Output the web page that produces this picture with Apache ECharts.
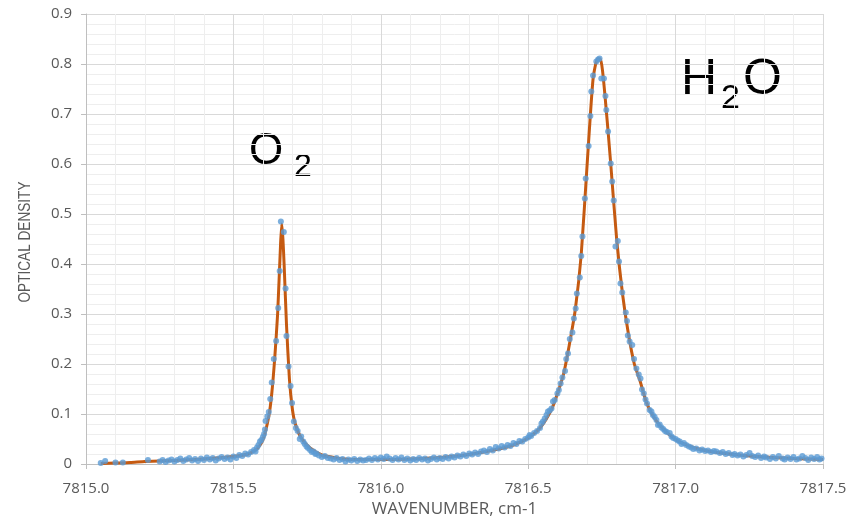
<!DOCTYPE html>
<html>
<head>
<meta charset="utf-8">
<script src="https://cdn.jsdelivr.net/npm/echarts@6/dist/echarts.min.js"></script>
<style>html,body{margin:0;padding:0;background:#fff}#c{width:854px;height:521px}</style>
</head>
<body>
<div id="c"></div>
<script>
// Measured (blue dots)
var measX = [7815.05,7815.065,7815.10,7815.125,7815.21,
7815.25,7815.26,7815.27,7815.28,7815.29,7815.30,7815.31,7815.32,7815.33,7815.34,7815.35,7815.36,7815.37,7815.38,7815.39,7815.40,7815.41,7815.42,7815.43,7815.44,7815.45,7815.46,7815.47,7815.48,7815.49,7815.50,7815.51,7815.52,7815.53,7815.54,7815.55,7815.56,7815.57,7815.575,7815.58,7815.585,7815.59,7815.595,
7815.600,7815.604,7815.607,7815.609,7815.615,7815.620,7815.625,7815.630,7815.637,7815.645,7815.652,7815.657,7815.661,7815.671,7815.677,7815.680,7815.687,7815.694,7815.699,7815.705,7815.712,7815.718,7815.725,7815.730,7815.737,7815.742,7815.748,7815.753,7815.760,7815.766,7815.772,7815.778,7815.782,
7815.79,7815.80,7815.81,7815.82,7815.83,7815.84,7815.85,7815.86,7815.87,7815.88,7815.89,7815.90,7815.91,7815.92,7815.93,7815.94,7815.95,7815.96,7815.97,7815.98,7815.99,7816.00,7816.01,7816.02,7816.03,7816.04,7816.05,7816.06,7816.07,7816.08,7816.09,7816.10,7816.11,7816.12,7816.13,7816.14,7816.15,7816.16,7816.17,7816.18,7816.19,7816.20,7816.21,7816.22,7816.23,7816.24,7816.25,7816.26,7816.27,7816.28,7816.29,7816.30,7816.31,7816.32,7816.33,7816.34,7816.35,7816.36,7816.37,7816.38,7816.39,7816.40,7816.41,7816.42,7816.43,7816.44,7816.45,7816.46,7816.47,7816.48,7816.49,7816.50,7816.505,7816.51,7816.52,7816.53,7816.54,
7816.545,7816.550,7816.556,7816.562,7816.567,7816.573,7816.579,7816.584,7816.590,7816.599,7816.604,7816.610,7816.616,7816.625,7816.629,7816.635,7816.641,7816.650,7816.655,7816.661,7816.665,7816.675,7816.680,7816.684,7816.692,7816.695,7816.705,7816.711,7816.714,7816.720,7816.731,7816.737,7816.742,7816.748,7816.757,7816.762,7816.765,7816.771,7816.780,7816.785,7816.790,7816.796,7816.804,7816.808,7816.813,7816.819,7816.831,7816.835,7816.838,7816.844,7816.853,7816.859,7816.867,7816.875,7816.881,7816.886,7816.892,7816.898,7816.903,7816.912,7816.918,7816.923,7816.929,7816.935,7816.940,7816.946,7816.952,7816.958,7816.964,7816.970,7816.980,7816.986,7816.992,
7817.000,7817.007,7817.014,7817.020,7817.028,7817.036,7817.045,7817.053,7817.06,7817.07,7817.081,7817.09,7817.10,7817.11,7817.12,7817.13,7817.138,7817.15,7817.16,7817.17,7817.18,7817.193,7817.20,7817.21,7817.22,7817.23,7817.24,7817.251,7817.26,7817.27,7817.28,7817.29,7817.30,7817.307,7817.32,7817.33,7817.34,7817.35,7817.363,7817.37,7817.38,7817.39,7817.40,7817.41,7817.42,7817.43,7817.44,7817.45,7817.46,7817.47,7817.48,7817.488,7817.495];
var measY = [0.002,0.006,0.003,0.003,0.008,
0.005,0.008,0.004,0.007,0.009,0.005,0.008,0.011,0.006,0.009,0.012,0.007,0.010,0.006,0.011,0.008,0.013,0.009,0.012,0.007,0.011,0.014,0.010,0.013,0.009,0.015,0.012,0.018,0.016,0.021,0.019,0.024,0.028,0.025,0.033,0.038,0.045,0.048,
0.054,0.060,0.069,0.086,0.095,0.104,0.130,0.163,0.210,0.246,0.312,0.386,0.485,0.464,0.351,0.256,0.195,0.156,0.122,0.085,0.072,0.066,0.050,0.055,0.045,0.040,0.035,0.032,0.028,0.024,0.025,0.020,0.021,
0.017,0.014,0.016,0.012,0.011,0.009,0.012,0.008,0.010,0.005,0.009,0.007,0.010,0.006,0.009,0.007,0.008,0.011,0.008,0.012,0.009,0.013,0.010,0.015,0.011,0.008,0.012,0.009,0.013,0.008,0.011,0.007,0.010,0.008,0.012,0.009,0.011,0.007,0.010,0.013,0.009,0.012,0.010,0.014,0.011,0.015,0.013,0.017,0.015,0.019,0.016,0.021,0.019,0.023,0.020,0.025,0.027,0.024,0.030,0.027,0.034,0.031,0.036,0.033,0.038,0.036,0.042,0.040,0.046,0.045,0.050,0.053,0.058,0.056,0.062,0.066,0.072,
0.081,0.085,0.091,0.098,0.105,0.107,0.111,0.125,0.128,0.141,0.148,0.161,0.173,0.186,0.210,0.221,0.250,0.263,0.291,0.311,0.341,0.373,0.416,0.455,0.531,0.571,0.636,0.696,0.745,0.777,0.805,0.809,0.811,0.771,0.771,0.736,0.708,0.665,0.601,0.565,0.527,0.435,0.446,0.405,0.361,0.343,0.303,0.286,0.257,0.245,0.238,0.210,0.191,0.179,0.171,0.149,0.141,0.129,0.121,0.108,0.105,0.098,0.094,0.088,0.078,0.079,0.073,0.070,0.066,0.064,0.062,0.055,0.052,
0.050,0.047,0.045,0.040,0.042,0.038,0.035,0.033,0.030,0.031,0.027,0.029,0.026,0.027,0.024,0.026,0.025,0.022,0.024,0.020,0.022,0.018,0.020,0.017,0.019,0.015,0.018,0.022,0.016,0.014,0.017,0.012,0.015,0.013,0.010,0.014,0.011,0.016,0.011,0.009,0.013,0.010,0.014,0.009,0.011,0.016,0.012,0.008,0.013,0.010,0.014,0.009,0.011];

// Fitted profile (orange line)
var fitX = [7815.05,7815.10,7815.15,7815.20,7815.30,7815.40,7815.50,7815.55,7815.58,7815.60,7815.62,7815.63,7815.64,7815.65,7815.66,7815.664,7815.668,7815.672,7815.68,7815.69,7815.70,7815.71,7815.73,7815.76,7815.80,7815.85,7815.90,7816.00,7816.10,7816.20,7816.30,7816.40,7816.45,7816.50,7816.54,7816.58,7816.60,7816.62,7816.64,7816.66,7816.68,7816.70,7816.72,7816.735,7816.745,7816.76,7816.78,7816.80,7816.82,7816.84,7816.86,7816.88,7816.90,7816.92,7816.95,7817.00,7817.05,7817.10,7817.20,7817.30,7817.40,7817.50];
var fitY = [0.001,0.002,0.003,0.005,0.007,0.010,0.015,0.020,0.030,0.048,0.095,0.14,0.21,0.30,0.44,0.48,0.45,0.40,0.28,0.17,0.11,0.08,0.052,0.032,0.018,0.012,0.009,0.009,0.010,0.013,0.019,0.030,0.038,0.052,0.072,0.110,0.142,0.18,0.24,0.31,0.42,0.60,0.77,0.81,0.81,0.74,0.60,0.45,0.34,0.26,0.20,0.165,0.125,0.10,0.075,0.049,0.035,0.027,0.019,0.014,0.011,0.009];

var xTicks = [7815.0, 7815.5, 7816.0, 7816.5, 7817.0, 7817.5];
var yTicks = [0, 0.1, 0.2, 0.3, 0.4, 0.5, 0.6, 0.7, 0.8, 0.9];

var measData = measX.map(function (x, i) { return [x, measY[i]]; });
var fitData = fitX.map(function (x, i) { return [x, fitY[i]]; });

var chart = echarts.init(document.getElementById('c'), null, { renderer: 'canvas' });
var labelFont = "'Open Sans', 'Liberation Sans', sans-serif";
var annFont = "'Liberation Sans', Arial, sans-serif";
var gridCol = '#d9d9d9', minorCol = '#eeeeee', axisCol = '#bfbfbf', txtCol = '#595959';
function ann(t, l, tp, fs) {
  return { type: 'text', left: l, top: tp,
    style: { text: t, fontSize: fs, fontFamily: annFont, fill: '#000' } };
}

chart.setOption({
  animation: false,
  backgroundColor: '#ffffff',
  grid: { left: 86, right: 31, top: 14, bottom: 57, containLabel: false, outerBoundsMode: 'none' },
  xAxis: {
    type: 'value', min: xTicks[0], max: xTicks[xTicks.length - 1], interval: 0.5,
    name: 'WAVENUMBER, cm-1', nameLocation: 'middle', nameGap: 35,
    nameTextStyle: { color: txtCol, fontSize: 17, fontFamily: labelFont },
    axisLine: { show: true, lineStyle: { color: axisCol, width: 1 } },
    axisTick: { show: true, length: 5, lineStyle: { color: axisCol } },
    axisLabel: { color: txtCol, fontSize: 15, fontFamily: labelFont, margin: 17,
      formatter: function (v) { return v.toFixed(1); } },
    splitLine: { show: true, lineStyle: { color: gridCol, width: 1 } },
    minorTick: { show: false, splitNumber: 5 },
    minorSplitLine: { show: true, lineStyle: { color: minorCol, width: 1 } }
  },
  yAxis: {
    type: 'value', min: yTicks[0], max: yTicks[yTicks.length - 1], interval: 0.1,
    axisLine: { show: true, lineStyle: { color: axisCol, width: 1 } },
    axisTick: { show: true, length: 5, lineStyle: { color: axisCol } },
    axisLabel: { color: txtCol, fontSize: 15, fontFamily: labelFont, margin: 14,
      formatter: function (v) { return v === 0 ? '0' : v.toFixed(1); } },
    splitLine: { show: true, lineStyle: { color: gridCol, width: 1 } },
    minorTick: { show: false, splitNumber: 5 },
    minorSplitLine: { show: true, lineStyle: { color: minorCol, width: 1 } }
  },
  series: [
    {
      type: 'line', data: fitData, showSymbol: false, smooth: 0.2,
      lineStyle: { color: '#C55A11', width: 3 }, z: 2
    },
    {
      type: 'scatter', data: measData, symbol: 'circle', symbolSize: 6,
      itemStyle: { color: '#5B9BD5' }, z: 3
    }
  ],
  graphic: [
    { type: 'text', x: 25, y: 242, rotation: Math.PI / 2, scaleX: 0.8,
      style: { text: 'OPTICAL DENSITY', fontSize: 17, fontFamily: annFont, fill: txtCol, align: 'center', verticalAlign: 'middle' } },
    ann('O', 249, 130, 44),
    ann('2', 294, 151, 32),
    ann('H', 681, 55, 50),
    ann('2', 721, 82, 34),
    ann('O', 743, 55, 50)
  ]
});
</script>
</body>
</html>
